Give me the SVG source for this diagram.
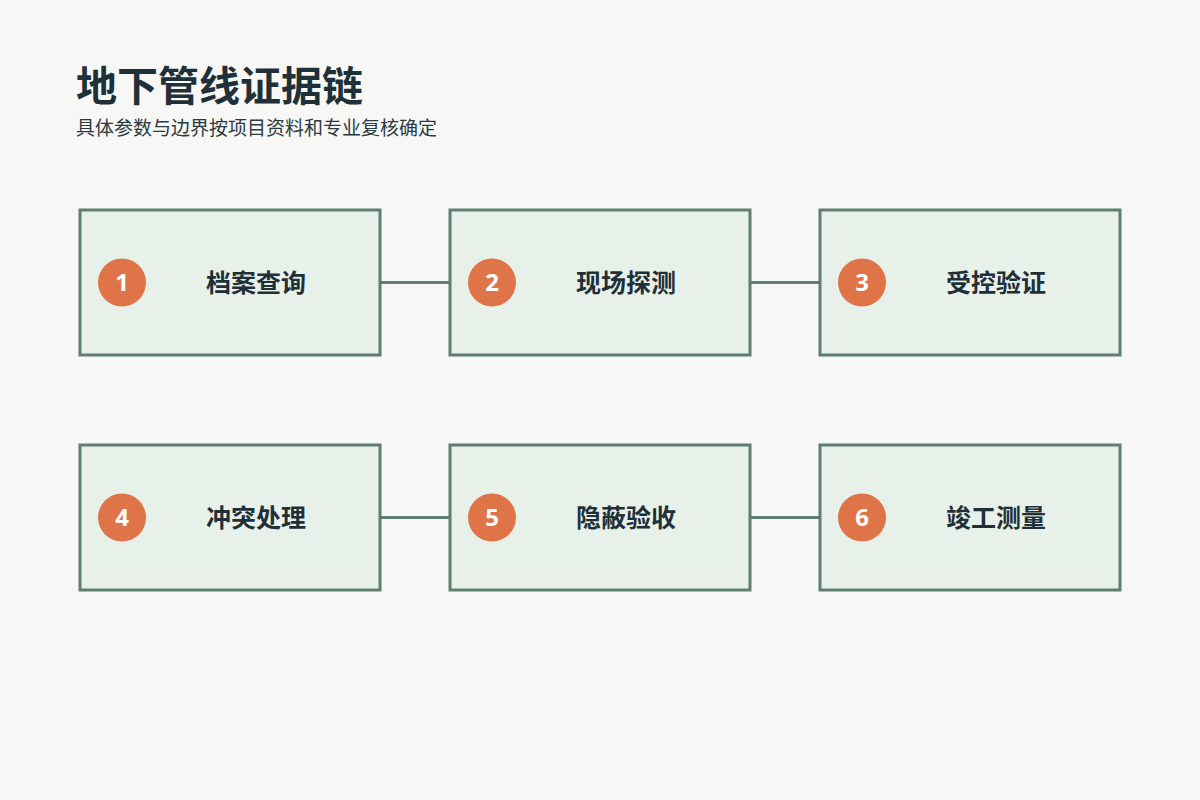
<svg xmlns="http://www.w3.org/2000/svg" width="1200" height="800" viewBox="0 0 1200 800">
<style>
.box{fill:#e7f0e9;stroke:#5f7f70;stroke-width:3}
.badge{fill:#e07449}
.num{font-family:"Noto Sans","Noto Sans CJK SC",sans-serif;font-weight:bold;font-size:24px;fill:#ffffff;text-anchor:middle}
.label{font-family:"Noto Sans CJK SC",sans-serif;font-weight:bold;font-size:25px;fill:#1f3038;text-anchor:middle}
.conn{stroke:#5f7f70;stroke-width:3;fill:none}
.title{font-family:"Noto Sans CJK SC",sans-serif;font-weight:bold;font-size:41px;fill:#1f3038}
.sub{font-family:"Noto Sans CJK SC",sans-serif;font-size:19px;fill:#2b3a40}
</style>
<rect width="1200" height="800" fill="#f7f7f5"/>
<text class="title" x="76" y="101">地下管线证据链</text>
<text class="sub" x="76" y="135">具体参数与边界按项目资料和专业复核确定</text>
<g id="connectors">
<line class="conn" x1="380" y1="282.5" x2="450" y2="282.5"/>
<line class="conn" x1="750" y1="282.5" x2="820" y2="282.5"/>
<line class="conn" x1="380" y1="517.5" x2="450" y2="517.5"/>
<line class="conn" x1="750" y1="517.5" x2="820" y2="517.5"/>
</g>
<g id="node1"><rect class="box" x="80" y="210" width="300" height="145"/><circle class="badge" cx="122" cy="282.5" r="24"/><text class="num" x="122" y="291">1</text><text class="label" x="256" y="291.5">档案查询</text></g>
<g id="node2"><rect class="box" x="450" y="210" width="300" height="145"/><circle class="badge" cx="492" cy="282.5" r="24"/><text class="num" x="492" y="291">2</text><text class="label" x="626" y="291.5">现场探测</text></g>
<g id="node3"><rect class="box" x="820" y="210" width="300" height="145"/><circle class="badge" cx="862" cy="282.5" r="24"/><text class="num" x="862" y="291">3</text><text class="label" x="996" y="291.5">受控验证</text></g>
<g id="node4"><rect class="box" x="80" y="445" width="300" height="145"/><circle class="badge" cx="122" cy="517.5" r="24"/><text class="num" x="122" y="526">4</text><text class="label" x="256" y="526.5">冲突处理</text></g>
<g id="node5"><rect class="box" x="450" y="445" width="300" height="145"/><circle class="badge" cx="492" cy="517.5" r="24"/><text class="num" x="492" y="526">5</text><text class="label" x="626" y="526.5">隐蔽验收</text></g>
<g id="node6"><rect class="box" x="820" y="445" width="300" height="145"/><circle class="badge" cx="862" cy="517.5" r="24"/><text class="num" x="862" y="526">6</text><text class="label" x="996" y="526.5">竣工测量</text></g>
</svg>
